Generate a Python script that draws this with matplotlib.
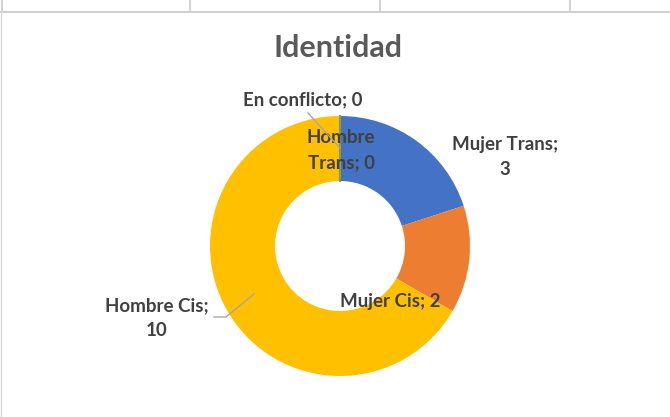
import matplotlib

matplotlib.use("Agg")
import matplotlib.pyplot as plt
from matplotlib.lines import Line2D

# Data
labels = ["Mujer Trans", "Mujer Cis", "Hombre Cis", "Hombre Trans", "En conflicto"]
values = [3, 2, 10, 0, 0]
colors = ["#4472C4", "#ED7D31", "#FFC000", "#A5A5A5", "#70AD47"]

W, H = 670, 417
fig = plt.figure(figsize=(W / 100, H / 100), dpi=100)
fig.patch.set_facecolor("white")

# spreadsheet cell lines above the chart area
for x in [2, 190, 380, 570]:
    fig.add_artist(Line2D([x / W, x / W], [1, 1 - 10 / H], color="#d4d4d4", lw=1.5))
fig.add_artist(Line2D([0, 1], [1 - 11.5 / H, 1 - 11.5 / H], color="#d0d0d0", lw=1.5))
fig.add_artist(Line2D([0.5 / W, 0.5 / W], [0, 1 - 11.5 / H], color="#d9d9d9", lw=1))

ax = fig.add_axes([0, 0, 1, 1])

cx, cy, r = 340, H - 246, 130
wedges, _ = ax.pie(
    values,
    colors=colors,
    startangle=90,
    counterclock=False,
    center=(cx, cy),
    radius=r,
    wedgeprops=dict(width=r * 0.5, linewidth=0),
    frame=True,
)
ax.set_xlim(0, W)
ax.set_ylim(0, H)
ax.set_aspect("equal")
ax.axis("off")

# zero-size slices still show as a thin seam at the top
ax.plot([cx, cx], [cy + r * 0.5, cy + r], color="#8a9a50", lw=1.5, zorder=3)

ax.text(338, H - 48, "Identidad", ha="center", va="center",
        fontsize=22, fontweight="bold", color="#595959", family="Lato")

lbl = dict(ha="center", va="center", fontsize=13.5, fontweight="bold",
           color="#404040", family="Lato", linespacing=1.55)
ax.text(303, H - 100, f"{labels[4]}; {values[4]}", **lbl)
ax.text(341, H - 150, f"Hombre\nTrans; {values[3]}", **lbl)
ax.text(505, H - 157, f"{labels[0]};\n{values[0]}", **lbl)
ax.text(390, H - 302, f"{labels[1]}; {values[1]}", **lbl)
ax.text(157, H - 318, f"{labels[2]};\n{values[2]}", **lbl)

# leader lines
ax.plot([308, 340], [H - 113, H - 148], color="#a6a6a6", lw=1, zorder=4)
ax.plot([214, 226, 254], [H - 317, H - 317, H - 294], color="#a6a6a6", lw=1, zorder=4)

fig.savefig("out.png", dpi=100, facecolor="white")
